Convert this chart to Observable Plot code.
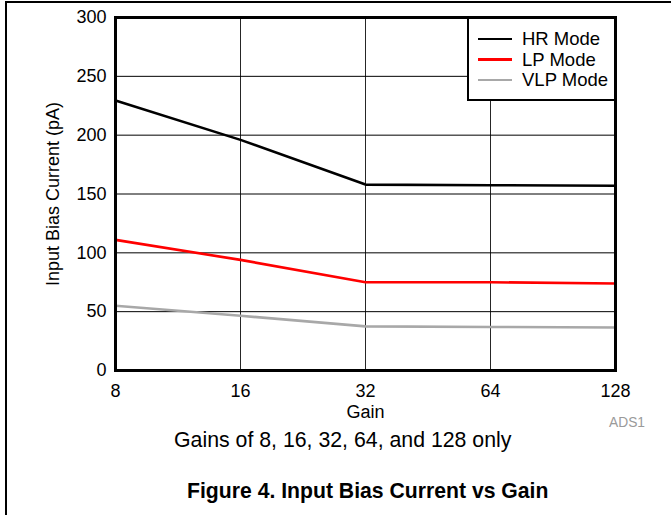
<!DOCTYPE html>
<html>
<head>
<meta charset="utf-8">
<script src="https://cdn.jsdelivr.net/npm/d3@7"></script>
<script src="https://cdn.jsdelivr.net/npm/@observablehq/plot@0.6"></script>
<style>
  html, body { margin: 0; padding: 0; background: #fff; }
  #wrap { position: relative; width: 671px; height: 515px; font-family: "Liberation Sans", Arial, sans-serif; overflow: hidden; }
  #chart svg text { font-size: 18px; font-family: "Liberation Sans", Arial, sans-serif; fill: #000; }
  #frameL { position: absolute; left: 5px; top: 2px; width: 2px; height: 513px; background: #000; }
  #frameT { position: absolute; left: 5px; top: 1px; width: 666px; height: 2px; background: #000; }
  #legend { position: absolute; left: 467px; top: 17px; width: 145px; height: 80px; border: 2px solid #000; background: #fff; box-sizing: content-box; }
  .li { position: absolute; left: 9px; height: 20px; font-size: 18.5px; line-height: 20px; color: #000; white-space: nowrap; }
  .li span.sw { display: inline-block; width: 34px; height: 2.5px; vertical-align: middle; margin-right: 10px; position: relative; top: -1px; }
  #ads { position: absolute; left: 609px; top: 415px; font-size: 13.8px; color: #9a9a9a; }
  #sub { position: absolute; left: 174px; top: 428px; font-size: 21.3px; color: #000; white-space: nowrap; }
  #title { position: absolute; left: 187px; top: 479px; font-size: 21.2px; font-weight: bold; color: #000; white-space: nowrap; }
</style>
</head>
<body>
<div id="wrap">
  <div id="chart"></div>
  <div id="frameL"></div>
  <div id="frameT"></div>
  <div id="legend"></div>
  <div id="ads">ADS1</div>
  <div id="sub"></div>
  <div id="title"></div>
</div>
<script>
const gains = [8, 16, 32, 64, 128];
const hrMode = [229.5, 196, 158, 157.5, 157];
const lpMode = [111, 94, 75, 75, 74];
const vlpMode = [55, 46.5, 37.5, 37, 36.5];
const seriesNames = ["HR Mode", "LP Mode", "VLP Mode"];
const seriesColors = ["#000000", "#ff0000", "#a8a8a8"];
const yTicks = [0, 50, 100, 150, 200, 250, 300];
const subtitleText = "Gains of 8, 16, 32, 64, and 128 only";
const titleText = "Figure 4. Input Bias Current vs Gain";

const seriesValues = [hrMode, lpMode, vlpMode];
const rows = [];
seriesNames.forEach((name, i) => {
  gains.forEach((g, j) => rows.push({ series: name, gain: g, value: seriesValues[i][j] }));
});

const font = "Liberation Sans, Arial, sans-serif";

const chart = Plot.plot({
  width: 671,
  height: 430,
  marginLeft: 115,
  marginRight: 56,
  marginTop: 17,
  marginBottom: 60,
  style: { fontFamily: font, fontSize: "18px", color: "#000", background: "transparent" },
  x: { type: "log", base: 2, domain: [8, 128] },
  y: { domain: [0, 300] },
  color: { domain: seriesNames, range: seriesColors },
  marks: [
    Plot.gridX(gains.slice(1, -1), { stroke: "#000", strokeOpacity: 0.85, strokeWidth: 1 }),
    Plot.gridY(yTicks.slice(1, -1), { stroke: "#000", strokeOpacity: 1, strokeWidth: 1 }),
    Plot.line(rows, { x: "gain", y: "value", z: "series", stroke: "series", strokeWidth: 2.6 }),
    Plot.frame({ stroke: "#000", strokeWidth: 3 }),
    Plot.axisX(gains, { tickSize: 0, tickPadding: 14, tickFormat: d => String(d), label: "Gain", labelArrow: "none", labelAnchor: "center", labelOffset: 47 }),
    Plot.axisY(yTicks, { tickSize: 0, tickPadding: 9, label: "Input Bias Current (pA)", labelArrow: "none", labelAnchor: "center", labelOffset: 69 })
  ]
});
document.getElementById("chart").appendChild(chart);

const legend = document.getElementById("legend");
seriesNames.forEach((name, i) => {
  const d = document.createElement("div");
  d.className = "li";
  d.style.top = (10 + i * 20.5) + "px";
  d.innerHTML = `<span class="sw" style="background:${seriesColors[i]}"></span>${name}`;
  legend.appendChild(d);
});
document.getElementById("sub").textContent = subtitleText;
document.getElementById("title").textContent = titleText;
</script>
</body>
</html>
